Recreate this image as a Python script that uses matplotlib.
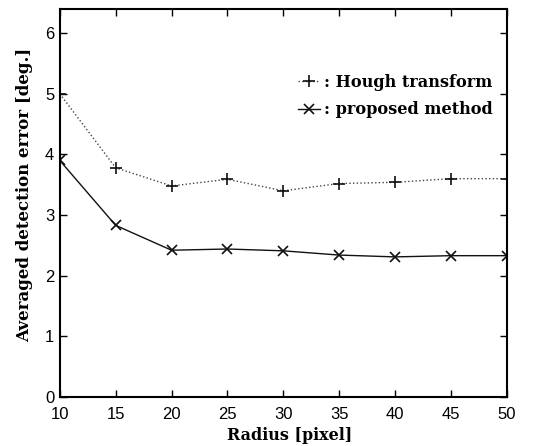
import matplotlib.pyplot as plt

radius = [10, 15, 20, 25, 30, 35, 40, 45, 50]
hough = [5.0, 3.78, 3.48, 3.59, 3.40, 3.52, 3.54, 3.60, 3.60]
proposed = [3.9, 2.83, 2.42, 2.44, 2.41, 2.34, 2.31, 2.33, 2.33]

xticks = [10, 15, 20, 25, 30, 35, 40, 45, 50]
yticks = [0, 1, 2, 3, 4, 5, 6]

serif = ['DejaVu Serif']

fig = plt.figure(figsize=(5.34, 4.46), dpi=100)
ax = fig.add_axes([0.112, 0.110, 0.837, 0.870])

ax.plot(radius, hough, color='#444444', linestyle=':', linewidth=1.0,
        marker='+', markersize=8, markeredgewidth=1.2, markeredgecolor='#111111',
        label=': Hough transform')
ax.plot(radius, proposed, color='#111111', linestyle='-', linewidth=1.0,
        marker='x', markersize=7, markeredgewidth=1.2, label=': proposed method')

ax.set_xlim(10, 50)
ax.set_ylim(0, 6.4)
ax.set_xticks(xticks)
ax.set_yticks(yticks)
ax.tick_params(direction='in', length=5, width=1, top=True, right=True, labelsize=12)
ax.tick_params(axis='x', pad=7)
ax.tick_params(axis='y', pad=4)
for lab in ax.get_xticklabels() + ax.get_yticklabels():
    lab.set_family('Liberation Sans')
for s in ax.spines.values():
    s.set_linewidth(1.5)

ax.set_xlabel('Radius [pixel]', family=serif, fontweight='bold', fontsize=11.5)
ax.set_ylabel('Averaged detection error [deg.]', family=serif, fontweight='bold', fontsize=12)
ax.xaxis.set_label_coords(0.515, -0.077)
ax.yaxis.set_label_coords(-0.06, 0.52)

ax.legend(loc='upper left', bbox_to_anchor=(0.50, 0.87), frameon=False,
          handlelength=1.4, handletextpad=0.2, labelspacing=0.65,
          prop={'family': serif, 'weight': 'bold', 'size': 11.6})

fig.savefig('out.png', dpi=100)
